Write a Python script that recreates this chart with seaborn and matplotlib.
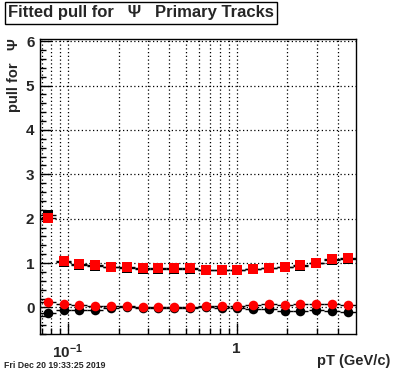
import numpy as np
import pandas as pd
import matplotlib
matplotlib.use("Agg")
import matplotlib.pyplot as plt
import seaborn as sns
from matplotlib.ticker import FixedLocator, NullFormatter

# ---- data ----
pt = [0.0762, 0.0944, 0.117, 0.1455, 0.1805, 0.224, 0.2774, 0.344, 0.4266, 0.530,
      0.657, 0.815, 1.011, 1.253, 1.555, 1.928, 2.39, 2.97, 3.68, 4.57]
red_sq = [2.02, 1.04, 0.97, 0.945, 0.92, 0.90, 0.885, 0.885, 0.88, 0.88,
          0.85, 0.85, 0.85, 0.865, 0.89, 0.91, 0.95, 1.0, 1.09, 1.12]
black_sq = [2.09, 1.03, 0.96, 0.94, 0.92, 0.89, 0.87, 0.87, 0.87, 0.87,
            0.85, 0.85, 0.85, 0.87, 0.89, 0.92, 0.93, 1.0, 1.06, 1.09]
red_c = [0.13, 0.085, 0.055, 0.03, 0.025, 0.03, 0.0, 0.01, 0.0, 0.01,
         0.03, 0.025, 0.03, 0.06, 0.07, 0.055, 0.085, 0.085, 0.085, 0.045]
black_c = [-0.12, -0.06, -0.06, -0.05, -0.015, 0.0, -0.02, -0.01, -0.01, -0.01,
           0.0, -0.01, -0.01, -0.045, -0.045, -0.075, -0.09, -0.07, -0.085, -0.10]
title = "Fitted pull for   \u03a8   Primary Tracks"
xlabel = "pT (GeV/c)"
ylabel = "pull for   \u03a8"
datestamp = "Fri Dec 20 19:33:25 2019"

sns.set_theme(style="white")
plt.rcParams['font.family'] = ['Liberation Sans', 'DejaVu Sans']
plt.rcParams['mathtext.fontset'] = 'custom'
plt.rcParams['mathtext.rm'] = 'Liberation Sans:bold'
plt.rcParams['mathtext.bf'] = 'Liberation Sans:bold'

fig = plt.figure(figsize=(3.96, 3.72), dpi=100)
fig.patch.set_facecolor('white')
ax = fig.add_axes([40/396, 38/372, 316/396, 295/372])
ax.set_facecolor('white')

x = np.array(pt)
step = np.log10(x[1] / x[0])
f = 10 ** (step / 2)
xerr = np.vstack([x - x / f, x * f - x])

df = pd.DataFrame({"pt": pt, "red_sq": red_sq, "black_sq": black_sq,
                   "red_c": red_c, "black_c": black_c})

# horizontal bin-width bars
for col in ["black_sq", "red_sq", "black_c", "red_c"]:
    ax.errorbar(df["pt"], df[col], xerr=xerr, fmt='none', ecolor='black',
                elinewidth=1.0, capsize=0, zorder=2)

ms = 42
sns.scatterplot(data=df, x="pt", y="black_sq", marker='s', color='black',
                s=ms, linewidth=0, ax=ax, zorder=3)
sns.scatterplot(data=df, x="pt", y="red_sq", marker='s', color='#ff0000',
                s=ms, linewidth=0, ax=ax, zorder=4)
sns.scatterplot(data=df, x="pt", y="black_c", marker='o', color='black',
                s=ms + 6, linewidth=0, ax=ax, zorder=3)
sns.scatterplot(data=df, x="pt", y="red_c", marker='o', color='#ff0000',
                s=ms + 6, linewidth=0, ax=ax, zorder=4)

ax.set_xscale('log')
ax.set_xlim(0.0685, 5.1)
ax.set_ylim(-0.6, 6.05)

ax.set_xticks([0.1, 1])
ax.set_xticklabels([r"$\mathbf{10^{-1}}$", "1"], fontsize=11, fontweight='bold')
minors = [0.07, 0.08, 0.09, 0.2, 0.3, 0.4, 0.5, 0.6, 0.7, 0.8, 0.9, 2, 3, 4]
ax.xaxis.set_minor_locator(FixedLocator(minors))
ax.xaxis.set_minor_formatter(NullFormatter())
ax.set_yticks(range(0, 7))
ax.set_yticklabels([str(v) for v in range(0, 7)], fontsize=11, fontweight='bold')
ax.yaxis.set_minor_locator(FixedLocator(np.arange(-0.6, 6.05, 0.2)))

ax.tick_params(axis='both', which='major', direction='in', length=8, width=1,
               color='black', pad=4, bottom=True, left=True)
ax.tick_params(axis='both', which='minor', direction='in', length=4, width=1,
               color='black', bottom=True, left=True)
ax.tick_params(axis='x', which='major', pad=6)

ax.grid(True, which='major', axis='both', linestyle=(0, (1, 2)), color='black', linewidth=0.9)
ax.grid(True, which='minor', axis='x', linestyle=(0, (1, 2)), color='black', linewidth=0.9)
ax.set_axisbelow(True)

for s in ax.spines.values():
    s.set_color('black')
    s.set_linewidth(1.0)

ax.set_xlabel("")
ax.set_ylabel("")
fig.text(390/396, 1 - 361/372, xlabel, ha='right', va='center', fontsize=10.5,
         fontweight='bold')
fig.text(14/396, 1 - 38/372, ylabel, ha='center', va='top', rotation=90,
         fontsize=10.5, fontweight='bold')
fig.text(8/396, 1 - 13/372, title, ha='left', va='center', fontsize=12,
         fontweight='bold',
         bbox=dict(boxstyle='square,pad=0.2', facecolor='white',
                   edgecolor='black', linewidth=1.0))
fig.text(4/396, 1 - 366/372, datestamp, ha='left', va='center', fontsize=6.3,
         fontweight='bold')

fig.savefig("out.png", dpi=100, facecolor='white')
